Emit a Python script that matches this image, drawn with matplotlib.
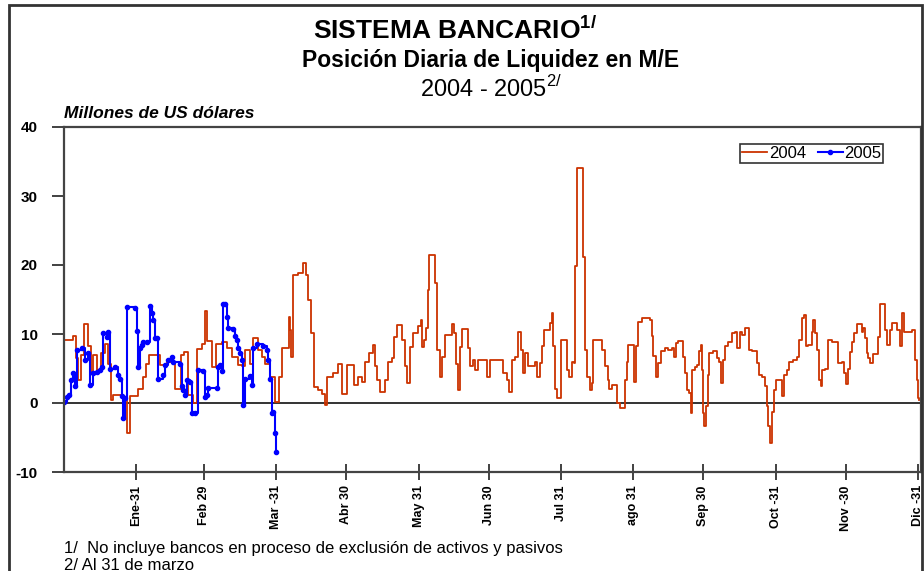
import matplotlib
matplotlib.use("Agg")
import matplotlib.pyplot as plt
from matplotlib.patches import Rectangle

plt.rcParams["font.family"] = ["Liberation Sans", "DejaVu Sans"]
plt.rcParams["mathtext.fontset"] = "custom"
plt.rcParams["mathtext.rm"] = "Liberation Sans"

# dia del año (calendario) y posicion diaria, millones de US$
dias_2004 = [0, 4, 5.1, 6.1, 7.1, 8.6, 10.4, 11.4, 12.6, 14, 15.7, 17.6, 19, 20, 20.9,
             25.4, 26.9, 28.3, 31.9, 33.7, 35.1, 36.6, 41.1, 44, 47.6, 50, 51.4, 53.3,
             55.4, 56.9, 59, 60.6, 61.4, 63.3, 65.1, 67.6, 69.7, 71.9, 74.7, 76.2, 77.6,
             79.7, 81.1, 83.3, 84.7, 86.2, 88.3, 90.4, 92.2, 93.3, 96.3, 96.9, 97.3, 98,
             100.4, 102.6, 103.6, 104.4, 105.9, 107.3, 109, 110.4, 111.9, 112.9, 115.4,
             117.6, 119.3, 121.2, 124.3, 126.2, 127.9, 129, 130.7, 132.3, 133.3, 134,
             135.4, 137.6, 139, 140.4, 141.4, 142.9, 144.9, 146.2, 147.2, 148.3, 149.7,
             151.9, 152.9, 153.5, 154.3, 155, 155.9, 156.6, 159, 160, 161.2, 161.9, 163.3,
             166.2, 167.3, 168, 168.7, 169.7, 170.5, 173.3, 174, 175.4, 176.2, 177.6,
             181.2, 182.6, 188.3, 189.8, 190.7, 191.9, 193.3, 194.5, 195.7, 196.6, 197.6,
             199, 201.9, 202.9, 204, 205, 205.9, 208.3, 209, 209.7, 210.5, 211.2, 212.9,
             215.5, 216.5, 217.6, 218.6, 219.2, 220, 222.6, 223.3, 224.3, 225.5, 226.2,
             226.9, 230.5, 231.9, 233, 233.7, 234.7, 237.2, 238.3, 240.5, 241.2, 241.9,
             244.5, 245.2, 246.2, 247.6, 251.2, 251.9, 252.6, 253.6, 254.7, 255.9, 257.6,
             259, 260.4, 261.4, 262.3, 263.3, 265.2, 266.2, 267.2, 268, 268.6, 269.3,
             270.5, 271.5, 272.2, 272.9, 273.3, 274, 274.5, 275.2, 275.9, 276.6, 278.3,
             279.8, 280.9, 281.5, 282.3, 283.3, 284.7, 286.2, 287.6, 288.6, 289.8, 290.7,
             291.9, 293.7, 294.8, 296.9, 298, 299, 300.5, 301.2, 301.9, 302.6, 303.6,
             304.4, 305.1, 307.6, 308.6, 309.8, 310.9, 312.6, 314.3, 315.2, 316.2, 317.2,
             317.9, 319, 320.5, 321.2, 321.9, 322.6, 323.7, 324.3, 325, 326.2, 327.6,
             329.1, 331.9, 333.4, 334.3, 335.1, 335.9, 336.9, 337.6, 338.7, 339.8, 341.9,
             342.6, 343.3, 344, 344.7, 345.5, 346.6, 349, 349.8, 351.9, 352.9, 353.8,
             354.8, 357.2, 358.4, 359.1, 359.8, 363.4, 364.8, 365.5, 366.2, 366.6]
liq_2004 = [9.2, 9.7, 6.5, 3.3, 7.0, 11.5, 8.2, 4.5, 7.0, 4.8, 7.3, 8.6, 5.6, 0.4, 1.1,
            0.4, -4.4, 1.0, 2.0, 3.7, 5.6, 7.0, 5.5, 6.0, 2.0, 7.0, 7.4, 1.1,
            0.0, 7.8, 8.5, 13.4, 9.0, 5.2, 8.5, 8.9, 7.9, 6.7, 5.5, 5.3, 7.7,
            5.7, 9.4, 7.7, 6.7, 5.7, 3.8, 0.2, 3.8, 7.9, 12.5, 10.6, 6.7, 18.6,
            18.8, 20.3, 18.6, 14.9, 10.1, 2.3, 1.9, 1.3, -0.3, 3.8, 4.3,
            5.7, 1.3, 5.5, 2.6, 3.8, 3.1, 6.0, 7.2, 8.4, 5.3, 3.3,
            1.6, 3.3, 6.0, 6.5, 9.6, 11.3, 9.1, 5.3, 2.9, 8.1, 10.1,
            11.1, 12.0, 8.1, 9.1, 10.8, 16.4, 21.4, 17.4, 7.7, 3.8, 6.7, 9.8,
            11.5, 10.1, 5.7, 1.9, 8.1, 10.7, 7.9, 5.3, 6.2, 4.8, 6.2,
            3.8, 6.2, 4.3, 3.3, 1.6, 6.2, 6.7, 10.3, 7.7, 4.3, 7.2,
            5.3, 6.0, 3.8, 5.8, 8.2, 10.6, 11.6, 13.0, 8.2, 2.1, 0.7, 9.2,
            4.8, 3.8, 6.0, 5.8, 19.8, 34.0, 21.2, 7.7, 3.8, 1.9, 2.9,
            9.2, 7.7, 5.3, 3.3, 2.1, 2.6, 0.0, -0.7, 3.3, 6.0, 8.4,
            3.1, 8.2, 11.8, 12.3, 12.0, 9.7, 6.8, 3.8, 5.8, 7.5, 8.0,
            7.7, 7.9, 6.7, 8.7, 9.0, 6.7, 4.3, 1.9, 1.4, -1.5, 4.8,
            5.2, 5.5, 7.5, 8.4, 4.8, -1.5, -3.4, -0.5, 4.1, 7.2, 7.6,
            6.5, 6.0, 2.9, 6.2, 8.2, 8.9, 10.1, 10.3, 7.9, 10.3, 9.9,
            10.8, 7.7, 7.6, 5.8, 4.1, 3.8, 2.4, -0.5, -3.4, -5.8, -1.3,
            1.9, 3.4, 1.0, 4.1, 4.8, 6.0, 6.3, 6.7, 9.1, 12.3, 12.8,
            8.2, 8.4, 10.3, 12.0, 10.1, 7.7, 3.3, 2.5, 4.8, 5.0, 9.1,
            8.9, 5.8, 6.0, 4.3, 2.8, 5.0, 7.4, 8.9, 10.1, 11.4, 10.3,
            10.8, 9.4, 7.2, 6.5, 5.8, 7.1, 9.6, 14.4, 10.6, 8.4, 10.6,
            11.6, 10.6, 8.2, 13.0, 10.3, 10.6, 6.2, 3.3, 0.7, 0.4]

dias_2005 = [0, 1.1, 2.3, 2.9, 4.0, 4.7, 5.4, 7.6, 9.0, 10.4, 11.1, 12.6, 14.0, 15.4,
             16.2, 16.9, 18.3, 19.0, 19.7, 21.9, 23.3, 24.0, 24.7, 25.4, 26.1, 26.9,
             30.4, 31.2, 31.9, 32.6, 33.3, 34.0, 35.4, 36.9, 37.6, 38.3, 39.0, 39.7,
             40.4, 42.6, 43.3, 44.7, 46.2, 46.9, 49.7, 50.4, 51.1, 51.9, 52.6, 54.0,
             54.7, 56.1, 57.6, 59.7, 60.4, 61.2, 61.9, 65.4, 66.1, 66.9, 67.6, 68.3,
             69.0, 69.7, 70.4, 72.6, 73.3, 74.0, 74.7, 75.4, 76.2, 76.9, 77.6, 79.7,
             80.4, 81.1, 82.6, 85.4, 86.9, 87.6, 88.3, 89.0, 89.7, 90.4, 90.9]
liq_2005 = [0.2, 0.8, 1.1, 3.3, 4.3, 2.4, 7.7, 7.9, 6.2, 7.2, 2.6, 4.3, 4.5, 4.8,
            5.2, 10.1, 9.6, 10.3, 5.0, 5.2, 4.0, 3.5, 1.0, -2.2, 0.7, 13.9,
            13.8, 10.4, 5.2, 7.9, 8.4, 8.9, 8.9, 14.0, 13.0, 12.0, 9.4, 9.4,
            3.5, 4.0, 5.5, 6.2, 6.7, 6.0, 5.7, 2.4, 1.9, 1.2, 3.4, 3.1,
            -1.4, -1.4, 4.8, 4.6, 0.9, 1.2, 2.2, 2.2, 5.2, 5.5, 4.6, 14.4,
            14.4, 12.5, 10.9, 10.7, 9.7, 9.2, 8.0, 7.2, 6.2, -0.3, 3.5, 3.9,
            2.6, 8.0, 8.5, 8.2, 7.7, 6.2, 3.5, -1.5, -1.3, -4.4, -7.1]

tick_dias = [31, 60, 91, 121, 152, 182, 213, 244, 274, 305, 335, 366]
tick_meses = ["Ene-31", "Feb 29", "Mar -31", "Abr 30", "May 31", "Jun 30", "Jul 31",
              "ago 31", "Sep 30", "Oct -31", "Nov -30", "Dic -31"]
y_ticks = [-10, 0, 10, 20, 30, 40]

W, H = 924, 571
fig = plt.figure(figsize=(W / 100, H / 100), dpi=100)
ax = fig.add_axes([64 / W, 1 - 472 / H, (921 - 64) / W, (472 - 127) / H])

ax.plot(dias_2004, liq_2004, drawstyle="steps-post", color="#CC3300", lw=1.3, label="2004")
ax.plot(dias_2005, liq_2005, drawstyle="steps-post", color="#0000FF", lw=1.5,
        marker="o", ms=3, label="2005")
ax.axhline(0, color="#333333", lw=1.4, zorder=1)

ax.set_xlim(0, 367.3)
ax.set_ylim(-10, 40)
ax.set_yticks(y_ticks)
ax.set_yticklabels([str(v) for v in y_ticks], fontweight="bold", fontsize=11)
ax.set_xticks(tick_dias)
ax.set_xticklabels(tick_meses, rotation=90, fontweight="bold", fontsize=9)
ax.tick_params(axis="y", direction="out", length=9, width=1.3, pad=10, color="#333333")
ax.tick_params(axis="x", direction="inout", length=11, width=1.3, pad=4, color="#333333")
for s in ax.spines.values():
    s.set_color("#444444")
    s.set_linewidth(1.6)

leg = ax.legend(loc="upper right", bbox_to_anchor=(0.956, 0.951), ncol=2, fontsize=12,
                frameon=True, fancybox=False, edgecolor="black", handlelength=1.5,
                handletextpad=0.1, columnspacing=0.7, borderpad=0.12, borderaxespad=0)
leg.get_frame().set_linewidth(1.2)

# marco exterior
fig.patches.append(Rectangle((9 / W, -0.05), (922 - 9) / W, 1.05 - 5 / H,
                             transform=fig.transFigure, fill=False,
                             edgecolor="#333333", lw=2))

fig.text(455 / W, 1 - 30 / H, r"SISTEMA BANCARIO$^{\mathregular{1/}}$", ha="center",
         va="center", fontsize=19, fontweight="bold")
fig.text(491 / W, 1 - 60 / H, "Posición Diaria de Liquidez en M/E", ha="center",
         va="center", fontsize=16.5, fontweight="bold")
fig.text(491 / W, 1 - 89 / H, r"2004 - 2005$^{\mathregular{2/}}$", ha="center",
         va="center", fontsize=17)
fig.text(64 / W, 1 - 113 / H, "Millones de US dólares", ha="left", va="center",
         fontsize=12.5, fontweight="bold", fontstyle="italic")
fig.text(64 / W, 1 - 549 / H, "1/  No incluye bancos en proceso de exclusión de activos y pasivos",
         ha="left", va="center", fontsize=12)
fig.text(64 / W, 1 - 565 / H, "2/ Al 31 de marzo", ha="left", va="center", fontsize=12)

fig.savefig("out.png", dpi=100)
